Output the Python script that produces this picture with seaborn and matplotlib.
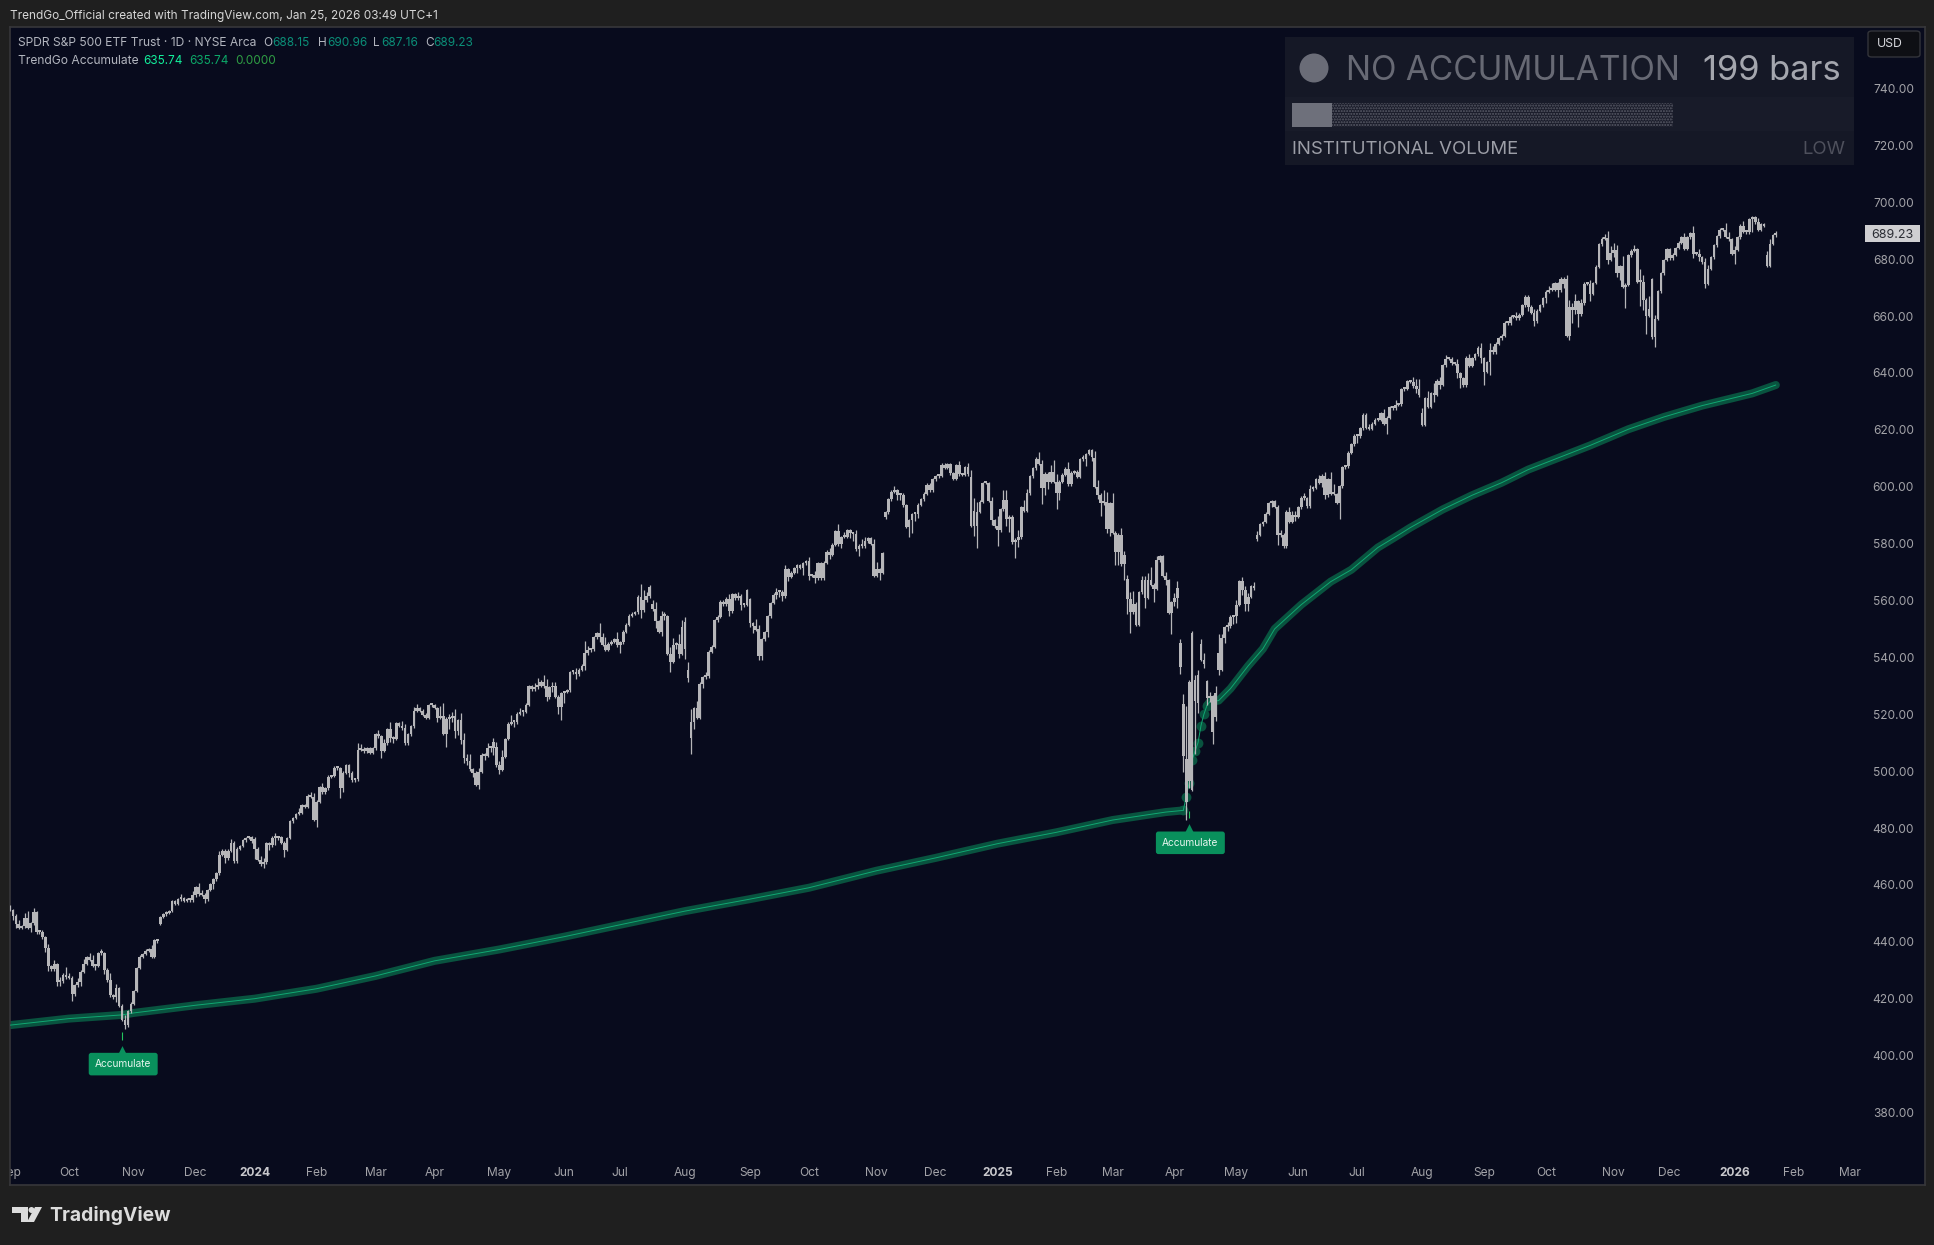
import numpy as np
import matplotlib
matplotlib.use("Agg")
import matplotlib.pyplot as plt
from matplotlib.patches import Rectangle, FancyBboxPatch, Ellipse, Polygon
import seaborn as sns

# daily SPY closes
closes_2023 = [
    451.2, 449.2, 446.2, 444.9, 445.5, 448.5, 445.0, 446.5, 450.4, 443.4, 443.6, 441.6, 437.8, 431.4, 430.4, 432.2, 426.0, 426.1, 428.5, 427.5,
    427.3, 421.6, 424.7, 425.9, 429.5, 432.3, 434.5, 433.7, 431.5, 431.5, 436.0, 436.0, 430.2, 426.4, 421.2, 420.5, 423.6, 417.6, 412.6, 410.7, 415.6, 418.2,
    422.7, 430.8, 434.7, 435.7, 436.9, 437.3, 434.7, 440.6, 440.2, 448.7, 449.7, 450.2, 450.8, 454.3, 453.3, 455.0, 455.3, 454.5, 454.9, 454.6, 456.4,
    459.1, 456.7, 456.6, 455.0, 458.2, 460.2, 462.0, 464.1, 470.5, 472.0, 469.3, 472.0, 474.8, 468.3, 472.7, 473.7, 475.7, 476.5, 476.7, 475.3,
]
closes_2024 = [
    472.7, 468.8, 467.3, 467.9, 474.6, 473.9, 476.6, 476.4, 476.7, 474.9, 472.3, 476.5, 482.4, 483.5, 484.9, 485.4, 488.0, 487.4, 491.3, 490.9, 482.9,
    489.2, 494.4, 492.6, 494.0, 498.1, 498.3, 501.2, 501.0, 494.1, 499.5, 502.0, 499.5, 496.8, 497.2, 507.5, 507.9, 506.9, 508.1, 506.4, 508.1,
    512.9, 512.3, 507.2, 509.8, 514.8, 511.7, 511.3, 516.8, 516.0, 515.0, 509.8, 512.9, 515.7, 521.2, 522.2, 521.2, 519.8, 518.8, 523.2, 523.1,
    522.2, 518.8, 519.4, 513.1, 518.4, 518.7, 519.3, 514.1, 518.0, 510.9, 504.5, 503.5, 500.6, 499.5, 495.2, 499.7, 505.7, 505.4, 508.3, 508.3, 510.1, 502.0,
    500.4, 505.0, 511.3, 516.6, 517.1, 517.2, 520.2, 520.8, 520.9, 523.3, 529.8, 528.7, 529.5, 530.1, 531.4, 529.8, 526.0, 529.4, 529.8, 526.1, 522.6, 527.4,
    527.8, 528.4, 534.7, 534.7, 534.0, 535.7, 537.0, 541.4, 542.5, 542.8, 547.1, 548.5, 547.0, 544.5, 542.7, 544.8, 545.5, 546.4, 544.2,
    545.3, 549.0, 551.5, 554.6, 555.3, 555.8, 561.3, 556.5, 560.0, 561.5, 564.9, 556.9, 552.7, 549.0, 554.7, 555.4, 541.2, 538.4, 544.4, 544.8, 541.3, 550.8,
    543.0, 532.9, 517.4, 522.2, 518.7, 530.7, 533.0, 533.3, 542.0, 543.8, 553.1, 554.3, 559.6, 558.7, 560.6, 556.2, 562.1, 560.8, 561.6, 558.3, 558.4, 563.7,
    552.1, 551.0, 549.6, 540.4, 546.4, 548.8, 554.4, 559.1, 562.0, 562.8, 563.1, 561.4, 571.0, 568.3, 569.7, 571.3, 572.3, 571.5, 573.0, 573.8,
    568.6, 568.9, 567.8, 573.0, 567.8, 573.2, 577.1, 576.1, 579.6, 584.3, 579.8, 582.3, 582.4, 584.6, 583.6, 583.3, 578.0, 579.2, 579.0, 580.8, 581.8, 580.0, 568.6,
    571.0, 569.8, 576.7, 591.0, 595.6, 598.2, 598.8, 596.9, 597.2, 593.4, 585.8, 588.2, 590.3, 590.5, 593.7, 595.5, 597.5, 600.7, 598.8, 602.6,
    603.6, 603.9, 607.7, 606.7, 607.8, 604.7, 602.8, 607.5, 604.3, 604.2, 606.8, 604.3, 586.3, 586.1, 591.2, 594.7, 601.3, 601.3, 595.0, 588.2, 586.1,
]
closes_2025 = [
    584.6, 592.0, 595.4, 588.6, 589.5, 580.5, 581.4, 582.2, 592.8, 591.6, 597.6, 603.6, 606.4, 609.8, 608.0, 599.4, 604.5, 601.8, 605.0, 601.8,
    597.8, 601.8, 604.2, 606.3, 600.8, 604.9, 605.3, 603.4, 609.7, 609.7, 611.5, 612.9, 610.4, 599.9, 597.2, 594.2, 594.5, 585.1, 594.2,
    583.8, 576.9, 583.1, 572.7, 575.9, 560.6, 555.9, 558.9, 551.4, 562.8, 567.1, 561.0, 567.1, 565.5, 564.0, 574.1, 575.5, 568.6, 567.1, 555.7, 559.4,
    561.0, 564.5, 536.7, 505.3, 504.4, 496.5, 548.6, 524.6, 533.9, 539.1, 537.6, 525.7, 526.4, 513.9, 527.3, 535.4, 546.7, 550.6, 550.9, 554.3, 554.5,
    558.5, 566.8, 563.5, 558.8, 561.2, 565.1, 564.3, 583.0, 586.8, 587.6, 590.5, 594.2, 594.9, 592.9, 582.9, 583.1, 579.1, 591.2, 587.7, 590.1, 589.4,
    592.7, 596.1, 595.9, 593.1, 599.1, 599.7, 602.7, 601.4, 603.8, 597.0, 602.7, 597.5, 597.4, 594.3, 600.2, 606.8, 607.1, 611.9, 614.9, 617.9,
    617.7, 620.5, 625.3, 620.7, 620.3, 622.1, 623.6, 623.6, 625.8, 622.1, 624.2, 628.0, 627.6, 628.8, 628.9, 634.2, 634.4, 637.1, 636.9, 635.3, 634.5, 632.1,
    621.7, 631.2, 628.0, 632.8, 632.3, 637.2, 635.9, 642.7, 644.9, 645.0, 643.4, 643.3, 639.8, 638.1, 635.6, 645.3, 642.5, 645.2, 646.6, 648.9, 645.1,
    640.3, 643.7, 648.1, 647.2, 650.3, 652.2, 653.0, 657.6, 657.4, 659.7, 660.0, 659.2, 660.4, 663.7, 666.8, 663.2, 661.1, 658.1, 661.8, 663.7, 666.2,
    668.5, 669.2, 669.2, 671.6, 669.1, 673.1, 671.2, 653.0, 663.0, 662.2, 665.2, 660.6, 664.4, 671.3, 671.3, 667.8, 671.6, 677.3, 685.2, 687.1, 687.4, 679.8, 682.1,
    683.3, 675.2, 677.6, 670.3, 671.0, 681.4, 683.0, 683.4, 672.0, 671.9, 665.7, 660.1, 662.6, 652.5, 659.0, 668.7, 675.0, 679.7, 683.4,
    680.3, 681.5, 683.9, 685.7, 687.6, 683.6, 687.6, 689.2, 681.8, 681.9, 680.7, 678.9, 671.4, 676.5, 680.6, 684.8, 688.0, 690.4, 690.3, 687.9, 687.0, 681.9,
]
closes_2026 = [683.2, 687.7, 691.8, 689.6, 689.5, 694.1, 694.8, 693.0, 690.4, 692.2, 691.7, 677.6, 685.4, 688.4, 689.23]

# opens that gap away from the previous close (the rest open at the last close)
gap_bars = [0, 51, 83, 165, 218, 223, 229, 230, 231, 251, 254, 297, 326, 327, 368, 379, 397, 398, 399, 400, 401, 402, 403, 404, 406, 409, 410, 411, 423, 479, 528, 557, 596]
gap_opens = [452.5, 446.3, 476.2, 508.6, 558.8, 554.5, 552.6, 535.7, 511.6, 560.5, 549.9, 589.2, 603.5, 591.4, 610.0, 567.6, 545.1, 523.7, 489.2, 531.4, 493.4, 532.2, 523.9, 544.8, 531.7, 519.2, 541.6, 535.6, 581.5, 626.0, 672.9, 672.9, 681.5]

# wick length above and below the body, by month
wick_up = [
    1,1,1,2,1,2,3,1,2,1,1,1,1,2,1,2,1,2,1,3,
    2,1,1,2,1,2,1,2,2,1,1,2,1,1,3,1,2,1,1,2,1,1,
    1,1,1,1,1,1,2,1,1,1,1,1,1,1,1,1,2,1,1,1,2,
    1,2,2,1,1,1,1,1,2,1,1,1,2,1,1,1,1,1,1,1,
    1,1,2,2,1,1,1,2,1,1,1,1,1,1,1,2,1,1,1,2,2,
    1,1,2,1,1,1,1,1,1,1,1,1,1,1,3,2,1,1,1,1,
    1,2,1,2,1,3,1,1,1,2,2,1,1,2,2,1,1,1,1,1,
    1,1,4,5,1,2,2,3,1,3,3,2,3,1,1,2,1,1,2,1,2,2,
    2,3,1,1,3,1,1,2,1,1,1,1,2,3,1,3,3,1,2,2,1,1,
    1,1,1,1,2,1,1,5,2,1,1,1,4,2,3,1,1,1,3,
    1,1,1,1,1,1,1,5,4,2,1,2,3,1,2,1,1,3,3,1,4,3,
    2,3,5,1,3,1,1,2,1,1,1,1,1,1,1,2,1,1,2,1,1,1,
    1,1,3,2,1,1,1,1,1,2,1,1,2,1,1,1,1,1,1,1,
    2,1,2,1,1,1,1,2,1,1,3,1,2,1,1,1,2,1,3,2,1,1,2,
    3,1,1,1,1,1,2,1,1,1,1,1,1,1,1,1,1,1,1,1,
    1,1,1,1,1,1,1,1,2,1,1,2,3,5,4,1,1,1,1,2,1,
    4,1,4,4,1,1,1,3,1,3,2,1,1,1,3,2,1,1,3,5,
    3,1,1,1,3,1,1,1,1,2,1,1,1,3,3,1,5,4,1,
    4,1,1,3,2,2,3,5,1,1,2,2,3,5,1,2,1,1,2,1,1,
    2,3,2,4,19,1,1,2,2,2,3,1,2,1,3,7,2,1,2,1,1,
    2,1,2,2,2,1,2,2,1,1,1,1,1,1,1,2,1,1,2,2,2,
    1,1,2,1,2,1,1,2,1,2,1,3,4,1,1,1,1,1,1,1,
    1,1,1,1,2,1,1,1,1,2,1,1,1,2,1,1,1,1,1,2,3,4,
    2,1,3,1,4,1,2,1,2,1,1,1,2,1,1,1,2,1,1,1,2,
    1,1,3,2,1,1,1,1,1,1,1,2,1,1,1,1,1,2,1,1,1,
    1,2,3,1,1,1,1,2,3,2,3,1,2,1,1,2,1,1,1,1,2,3,3,
    3,2,1,4,1,1,1,2,1,5,3,1,5,1,2,1,1,1,1,
    1,1,1,1,1,2,1,1,3,1,2,1,2,2,1,1,1,1,1,3,2,1,
    2,1,1,2,1,1,1,1,2,1,1,2,2,1,1,
]
wick_down = [
    1,2,2,1,1,1,1,2,1,1,1,1,2,2,1,1,2,2,1,1,
    1,3,1,1,2,1,1,1,1,2,1,1,2,1,1,1,2,1,1,2,1,1,
    1,1,1,1,1,1,1,1,1,1,1,1,1,1,1,1,1,1,1,1,1,
    1,1,1,2,1,1,2,1,1,1,2,1,1,1,1,1,1,1,1,1,
    4,1,1,2,1,2,1,3,1,1,3,1,1,1,1,1,1,1,1,1,1,
    3,1,1,1,1,1,1,1,4,2,1,2,1,1,1,1,1,1,1,1,
    1,1,3,1,1,2,2,1,1,1,1,1,1,1,1,1,1,1,1,1,
    1,2,1,1,5,4,2,3,2,2,2,2,1,2,1,2,1,2,1,2,3,1,
    2,1,1,1,1,2,1,1,2,1,1,1,1,1,1,1,2,1,2,1,3,5,
    4,1,1,1,2,1,1,2,1,1,1,1,2,1,1,1,1,1,1,
    3,1,1,1,1,1,1,3,1,1,1,1,3,1,2,2,1,4,1,2,2,1,
    4,2,6,3,1,1,2,1,1,1,1,1,1,1,1,2,1,1,1,2,1,1,
    2,3,1,2,2,1,2,1,1,2,2,2,1,2,1,1,2,1,3,1,
    2,1,2,1,1,1,1,2,1,1,1,2,1,1,2,3,1,3,1,1,1,1,1,
    1,3,1,1,1,1,1,2,2,1,1,4,5,3,2,1,1,1,1,1,
    1,1,1,1,1,1,1,1,1,1,1,1,1,4,8,1,1,1,1,2,1,
    6,1,1,3,5,1,6,3,1,1,1,1,1,1,1,6,3,3,1,1,
    6,3,1,1,1,1,1,1,1,1,3,1,2,1,2,5,1,2,3,
    1,5,5,1,6,6,8,1,1,1,1,4,1,1,5,1,1,1,2,1,8,
    2,4,3,6,7,3,1,19,4,1,2,3,2,5,2,2,1,2,2,1,3,
    3,1,2,3,3,1,1,1,1,1,1,1,2,1,4,1,1,1,1,1,2,
    1,1,1,1,1,1,1,1,2,2,1,1,1,1,6,1,1,1,1,1,
    3,1,1,1,1,1,1,1,1,1,4,1,1,1,1,1,1,1,1,1,2,1,
    1,1,1,1,3,1,2,1,1,1,1,1,2,4,1,1,1,1,1,1,2,
    5,1,5,1,1,1,1,1,1,1,1,1,1,1,1,2,1,2,1,1,1,
    2,1,1,1,3,1,2,1,2,5,2,5,1,1,1,3,1,1,1,1,1,2,1,
    2,2,3,1,8,1,1,1,1,9,4,7,1,1,4,1,1,1,1,
    1,1,1,1,1,1,1,1,2,1,2,1,2,1,1,1,1,1,1,1,1,1,
    4,1,1,1,1,1,5,1,1,1,1,1,1,1,1,
]

# TrendGo Accumulate line, one stretch per regime
line_before_bars = [0, 20, 38, 42, 63, 83, 104, 124, 144, 166, 188, 207, 229, 251, 271, 294, 314, 335, 355, 374, 392, 398]
line_before_vals = [410.7, 413.0, 414.3, 415.0, 417.7, 420.0, 423.5, 428.0, 433.3, 437.3, 441.8, 446.0, 450.8, 455.0, 459.0, 465.0, 469.5, 474.5, 478.5, 482.8, 485.6, 486.2]
line_jump_bars = [398, 399, 400, 401, 402, 403, 404, 405, 406]
line_jump_vals = [486.2, 491.0, 496.0, 504.0, 507.0, 510.0, 516.0, 520.0, 523.0]
line_after_bars = [406, 407, 410, 414, 420, 425, 429, 438, 448, 455, 464, 471, 475, 486, 496, 506, 515, 536, 549, 561, 574, 591, 599]
line_after_vals = [523.0, 524.4, 524.8, 529.0, 537.0, 543.0, 550.0, 558.5, 566.6, 570.8, 578.6, 583.0, 585.6, 592.0, 597.0, 601.4, 606.0, 614.5, 620.2, 624.5, 628.5, 632.8, 635.74]

# accumulate signals
signal_bars = [38, 400]
signal_tick_low = [405.5, 483.6]
signal_tick_high = [408.3, 486.0]
signal_tip = [401.4, 479.2]
signal_box = [397.0, 474.8]

month_bars = [0, 20, 42, 63, 83, 104, 124, 144, 166, 188, 207, 229, 251, 271, 294, 314, 335, 355, 374, 395, 416, 437, 457, 479, 500, 521, 544, 563, 585, 605, 624]
month_labels = ["Sep", "Oct", "Nov", "Dec", "2024", "Feb", "Mar", "Apr", "May", "Jun", "Jul", "Aug", "Sep", "Oct", "Nov", "Dec", "2025", "Feb", "Mar", "Apr", "May", "Jun", "Jul", "Aug", "Sep", "Oct", "Nov", "Dec", "2026", "Feb", "Mar"]
price_ticks = list(range(380, 741, 20))
last_price = 689.23

W, H = 1934, 1245
PANE = "#080b1d"
OUTER = "#1f1f1f"
CANDLE = "#b6b6b9"
GREEN_BAND = "#09533f"
GREEN_CORE = "#10a872"
GREEN_TAG = "#09905c"
AXIS_TXT = "#a3a3a8"
WICK_TRIM = 0.5


def fx(x):
    return x / W


def fy(y):
    return 1 - y / H


def label(fig, x, y, txt, size=9, color="#b2b5be", ha="left", weight="normal"):
    fig.text(fx(x), fy(y), txt, fontsize=size, color=color, ha=ha, va="center", weight=weight, zorder=10)


def rect(fig, x0, y0, x1, y1, color):
    fig.add_artist(Rectangle((fx(x0), fy(y1)), fx(x1 - x0), (y1 - y0) / H, transform=fig.transFigure,
                             facecolor=color, linewidth=0, zorder=8))


def draw_candles(ax):
    closes = np.array(closes_2023 + closes_2024 + closes_2025 + closes_2026)
    bars = np.arange(len(closes))
    opens = np.roll(closes, 1)
    opens[gap_bars] = gap_opens
    top = np.maximum(opens, closes)
    bottom = np.minimum(opens, closes)
    low = bottom - (np.array(wick_down) - WICK_TRIM)
    high = top + (np.array(wick_up) - WICK_TRIM)
    ax.vlines(bars, low, high, color=CANDLE, linewidth=0.9, zorder=4)
    ax.bar(bars, np.maximum(top - bottom, 0.7), bottom=bottom, width=0.92, color=CANDLE, linewidth=0, zorder=5)


def draw_line(ax):
    before = dict(x=line_before_bars, y=line_before_vals)
    jump = dict(x=line_jump_bars, y=line_jump_vals)
    after = dict(x=line_after_bars, y=line_after_vals)
    for part in (before, after):
        sns.lineplot(**part, ax=ax, color=GREEN_BAND, linewidth=5.8, solid_capstyle="round", zorder=2, legend=False)
    sns.scatterplot(**jump, ax=ax, color=GREEN_BAND, s=50, linewidth=0, zorder=2, legend=False)
    for part in (before, jump, after):
        sns.lineplot(**part, ax=ax, color=GREEN_CORE, linewidth=0.7, zorder=3, legend=False)


def draw_signals(ax):
    ax.vlines(signal_bars, signal_tick_low, signal_tick_high, color="#22c55e", linewidth=0.8, zorder=6)
    sns.scatterplot(x=signal_bars, y=signal_tip, ax=ax, color=GREEN_TAG, marker="^", s=85, linewidth=0, zorder=6, legend=False)
    for bar, price in zip(signal_bars, signal_box):
        ax.text(bar + 0.4, price, "Accumulate", color="#e6f5ee", fontsize=7.3, ha="center", va="center", zorder=7,
                bbox=dict(boxstyle="round,pad=0.62,rounding_size=0.25", facecolor=GREEN_TAG, edgecolor="none"))


def draw_status_panel(fig):
    rect(fig, 1285, 37, 1854, 165, "#151826")
    rect(fig, 1285, 97, 1854, 131, "#181b29")
    fig.add_artist(Ellipse((fx(1314), fy(68)), 29 / W, 29 / H, transform=fig.transFigure, facecolor="#6a6c77", linewidth=0, zorder=9))
    label(fig, 1346, 71, "NO ACCUMULATION", size=24.0, color="#676974")
    label(fig, 1841, 71, "199 bars", size=24.8, color="#a4a6ae", ha="right")
    plt.rcParams["hatch.linewidth"] = 1.0
    fig.add_artist(Rectangle((fx(1332), fy(127)), fx(341), 24 / H, transform=fig.transFigure, facecolor="#1a1c2a",
                             edgecolor="#5a5c68", hatch="......", linewidth=0, zorder=9))
    rect(fig, 1292, 103, 1332, 127, "#6e707b")
    label(fig, 1292, 150, "INSTITUTIONAL VOLUME", size=13.4, color="#9c9ea7")
    label(fig, 1845, 150, "LOW", size=13.4, color="#4e505c", ha="right")


def draw_price_tags(fig):
    fig.add_artist(FancyBboxPatch((fx(1868), fy(57)), fx(52), 26 / H, boxstyle="round,pad=0,rounding_size=0.002",
                                  transform=fig.transFigure, facecolor="#0e0f14", edgecolor="#33343a", linewidth=1, zorder=9))
    label(fig, 1890, 44, "USD", size=8.8, color="#d8d9de", ha="center")
    rect(fig, 1865, 225, 1920, 242, "#cfcfd2")
    label(fig, 1892.5, 234.5, f"{last_price:.2f}", size=9.0, color="#2a2c33", ha="center")


def draw_header(fig):
    label(fig, 10, 15.5, "TrendGo_Official created with TradingView.com, Jan 25, 2026 03:49 UTC+1", size=8.5, color="#d6d6d6")
    label(fig, 18, 43.5, "SPDR S&P 500 ETF Trust · 1D · NYSE Arca", size=8.7)
    for x, txt, color in [(263, "O", "#b2b5be"), (272, "688.15", "#0b8f78"), (318, "H", "#b2b5be"), (327, "690.96", "#0b8f78"),
                          (373, "L", "#b2b5be"), (381, "687.16", "#0b8f78"), (425, "C", "#b2b5be"), (433, "689.23", "#0b8f78")]:
        label(fig, x, 43.5, txt, size=8.5, color=color)
    label(fig, 18, 60.5, "TrendGo Accumulate", size=8.7)
    label(fig, 143, 60.5, "635.74", size=8.5, color="#12f09c")
    label(fig, 189, 60.5, "635.74", size=8.5, color="#0ca868")
    label(fig, 235, 60.5, "0.0000", size=8.5, color="#2f9e44")


def draw_logo(fig):
    logo = "#dcdcdc"
    rect(fig, 12, 1207, 28, 1212.5, logo)
    rect(fig, 21, 1207, 28, 1222, logo)
    fig.add_artist(Ellipse((fx(31.5), fy(1210)), 6 / W, 6 / H, transform=fig.transFigure, facecolor=logo, linewidth=0, zorder=9))
    fig.add_artist(Polygon([(fx(35), fy(1207)), (fx(42), fy(1207)), (fx(34), fy(1222)), (fx(27), fy(1222))],
                           transform=fig.transFigure, facecolor=logo, linewidth=0, zorder=9))
    label(fig, 49, 1215.5, "TradingView", size=13.9, color=logo, weight="bold")


def main():
    sns.set_theme(style="dark", rc={"axes.facecolor": PANE, "figure.facecolor": OUTER})
    plt.rcParams["font.family"] = ["Inter", "DejaVu Sans"]

    fig = plt.figure(figsize=(W / 100, H / 100), dpi=100)
    ax = fig.add_axes([fx(10), fy(1185), fx(1925 - 10), (1185 - 27) / H])

    draw_line(ax)
    draw_candles(ax)
    draw_signals(ax)

    ax.set_xlim(0, 649.6)
    ax.set_ylim(354.5, 761.6)
    ax.set_xlabel("")
    ax.set_ylabel("")
    ax.grid(False)
    for spine in ax.spines.values():
        spine.set_color("#37373a")
        spine.set_linewidth(1.2)

    ax.set_xticks(month_bars, month_labels)
    ax.tick_params(axis="x", length=0, pad=-13, labelsize=8.6, labelcolor=AXIS_TXT)
    for tick, name in zip(ax.get_xticklabels(), month_labels):
        tick.set_clip_on(True)
        tick.set_clip_box(ax.bbox)
        if name.isdigit():
            tick.set_fontweight("bold")
            tick.set_color("#c8c8cc")

    ax.yaxis.tick_right()
    ax.set_yticks(price_ticks, [f"{p:.2f}" for p in price_ticks])
    ax.tick_params(axis="y", length=0, pad=-8, labelsize=8.6, labelcolor=AXIS_TXT)
    for tick in ax.get_yticklabels():
        tick.set_ha("right")

    draw_status_panel(fig)
    draw_price_tags(fig)
    draw_header(fig)
    draw_logo(fig)

    fig.savefig("out.png", dpi=100, facecolor=OUTER)
    plt.close(fig)


if __name__ == "__main__":
    main()
